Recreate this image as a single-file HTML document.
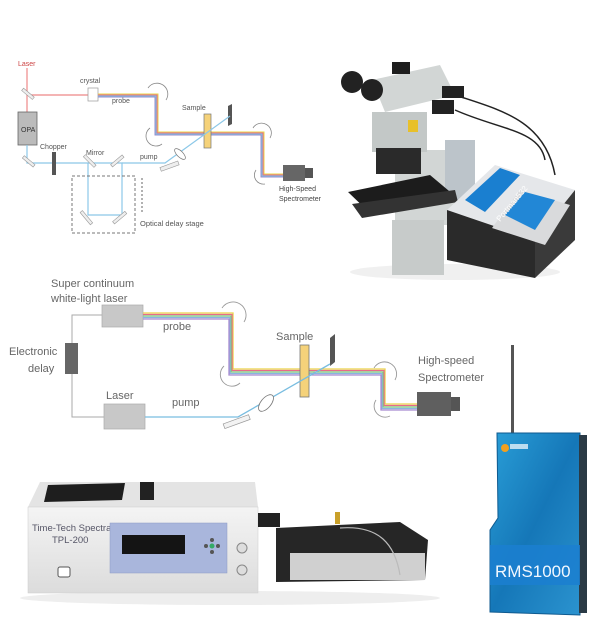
<!DOCTYPE html>
<html><head><style>
html,body{margin:0;padding:0;background:#fff;}
svg{display:block}
text{font-family:"Liberation Sans",sans-serif;}
</style></head><body>
<svg width="607" height="630" viewBox="0 0 607 630" xmlns="http://www.w3.org/2000/svg">
<defs>
<linearGradient id="blu" x1="0" y1="0" x2="1" y2="1"><stop offset="0" stop-color="#2a9fd8"/><stop offset="0.5" stop-color="#1577b8"/><stop offset="1" stop-color="#2b93cf"/></linearGradient>
<linearGradient id="wbox" x1="0" y1="0" x2="0" y2="1"><stop offset="0" stop-color="#f4f4f4"/><stop offset="1" stop-color="#dcdcdc"/></linearGradient>
</defs>
<!-- ===== Top diagram ===== -->
<g font-size="7" fill="#555">
<text x="18" y="66" fill="#c44">Laser</text>
<line x1="27" y1="68" x2="27" y2="95" stroke="#e88" stroke-width="1.2"/>
<line x1="27" y1="95" x2="88" y2="95" stroke="#e88" stroke-width="1.2"/>
<line x1="27" y1="95" x2="27" y2="112" stroke="#e88" stroke-width="1.2"/>
<rect x="20" y="92" width="14" height="3" transform="rotate(40 27 95)" fill="#eee" stroke="#999" stroke-width="0.6"/>
<text x="80" y="83">crystal</text>
<rect x="88" y="88" width="10" height="13" fill="#fff" stroke="#999" stroke-width="0.7"/>
<text x="112" y="103">probe</text>
<g fill="none" stroke-width="1">
<polyline points="98,94 158,94 158,132 264,132 264,174 285,174" stroke="#e9d44a"/>
<polyline points="98,95 157,95 157,133 263,133 263,175 285,175" stroke="#e86a8a"/>
<polyline points="98,96 156,96 156,134 262,134 262,176 285,176" stroke="#7ac7e6"/>
<polyline points="98,97 155,97 155,135 261,135 261,177 285,177" stroke="#9a8acb"/>
</g>
<path d="M148,88 A9,9 0 0 1 166,100" fill="none" stroke="#888" stroke-width="0.8"/>
<path d="M150,128 A9,9 0 0 0 162,144" fill="none" stroke="#888" stroke-width="0.8"/>
<path d="M253,128 A9,9 0 0 1 270,138" fill="none" stroke="#888" stroke-width="0.8"/>
<path d="M256,170 A9,9 0 0 0 265,184" fill="none" stroke="#888" stroke-width="0.8"/>
<text x="182" y="110">Sample</text>
<rect x="204" y="114" width="7" height="34" fill="#f5d27a" stroke="#777" stroke-width="0.7"/>
<polygon points="228,106 232,104 232,124 228,126" fill="#555"/>
<rect x="283" y="165" width="22" height="16" fill="#666"/><rect x="305" y="168" width="8" height="10" fill="#555"/>
<text x="279" y="191" fill="#444">High-Speed</text>
<text x="279" y="201" fill="#444">Spectrometer</text>
<rect x="18" y="112" width="19" height="33" fill="#bbb" stroke="#666" stroke-width="0.8"/>
<text x="21" y="132" fill="#333">OPA</text>
<g stroke="#8cc8e8" stroke-width="1.2" fill="none">
<polyline points="27,145 27,163 122,163 122,215 88,215 88,163"/>
<polyline points="122,163 165,163 230,116"/>
</g>
<rect x="22" y="160" width="14" height="3" transform="rotate(40 29 161)" fill="#eee" stroke="#999" stroke-width="0.6"/>
<text x="40" y="149">Chopper</text>
<rect x="52" y="152" width="4" height="23" fill="#555"/>
<text x="86" y="155">Mirror</text>
<rect x="82" y="159" width="15" height="3" transform="rotate(45 89 161)" fill="#eee" stroke="#999" stroke-width="0.6"/>
<rect x="110" y="159" width="15" height="3" transform="rotate(-40 118 161)" fill="#eee" stroke="#999" stroke-width="0.6"/>
<text x="140" y="159">pump</text>
<rect x="160" y="164" width="19" height="4" transform="rotate(-20 170 166)" fill="#eee" stroke="#999" stroke-width="0.6"/>
<ellipse cx="180" cy="154" rx="3" ry="7" transform="rotate(-45 180 154)" fill="#fff" stroke="#777" stroke-width="0.7"/>
<rect x="72" y="176" width="63" height="57" fill="none" stroke="#777" stroke-dasharray="3,2" stroke-width="1"/>
<rect x="78" y="216" width="16" height="3" transform="rotate(50 86 218)" fill="#eee" stroke="#999" stroke-width="0.6"/>
<rect x="112" y="216" width="16" height="3" transform="rotate(-40 120 218)" fill="#eee" stroke="#999" stroke-width="0.6"/>
<line x1="142" y1="178" x2="142" y2="213" stroke="#666" stroke-dasharray="2,2"/>
<text x="140" y="226" font-size="7.5">Optical delay stage</text>
</g>
<!-- ===== Microscope photo ===== -->
<g>
<ellipse cx="455" cy="272" rx="105" ry="8" fill="#f0f0f0"/>
<rect x="395" y="150" width="65" height="75" fill="#d2d6d5"/>
<rect x="445" y="140" width="30" height="60" fill="#bcc4ca"/>
<rect x="392" y="220" width="52" height="55" fill="#c7cbca"/>
<polygon points="348,192 430,175 455,196 372,215" fill="#1c1c1c"/>
<polygon points="352,204 455,190 458,202 362,218" fill="#333"/>
<rect x="372" y="112" width="55" height="40" fill="#c3c8c7"/>
<rect x="376" y="148" width="45" height="26" fill="#2a2a2a"/>
<polygon points="372,80 440,65 455,95 385,112" fill="#d2d6d5"/>
<circle cx="352" cy="82" r="11" fill="#222"/><circle cx="372" cy="90" r="11" fill="#222"/>
<rect x="392" y="62" width="18" height="12" fill="#1e1e1e"/>
<rect x="408" y="120" width="10" height="12" fill="#e8c02a"/>
<rect x="432" y="100" width="22" height="14" fill="#222"/><rect x="442" y="86" width="22" height="12" fill="#222"/>
<path d="M455,95 C500,110 545,120 555,175" fill="none" stroke="#222" stroke-width="1.5"/>
<path d="M455,110 C500,130 540,130 545,160" fill="none" stroke="#222" stroke-width="1.5"/>
<polygon points="447,210 495,165 575,190 535,240" fill="#e5e7ea"/>
<polygon points="465,200 500,168 520,175 485,212" fill="#1a7fd0"/>
<polygon points="447,210 535,240 535,278 447,260" fill="#2a2a2a"/>
<polygon points="535,240 575,190 575,240 535,278" fill="#3a3a3a"/>
<polygon points="492,228 520,190 570,205 545,245" fill="#d9dadc"/>
<polygon points="505,215 525,192 555,200 535,230" fill="#2287d6"/>
<text x="500" y="222" font-size="8" fill="#fff" transform="rotate(-50 500 222)">Portman532</text>
</g>
<!-- ===== Middle diagram ===== -->
<g font-size="11" fill="#666">
<text x="51" y="287">Super continuum</text>
<text x="51" y="302">white-light laser</text>
<rect x="102" y="305" width="41" height="22" fill="#c8c8c8" stroke="#aaa" stroke-width="0.7"/>
<text x="163" y="330">probe</text>
<g fill="none" stroke-width="1.3">
<polyline points="143,313 233,313 233,369 385,369 385,404 417,404" stroke="#e9d44a"/>
<polyline points="143,314.5 232,314.5 232,370.5 384,370.5 384,405.5 417,405.5" stroke="#e86a8a"/>
<polyline points="143,316 231,316 231,372 383,372 383,407 417,407" stroke="#7cc97a"/>
<polyline points="143,317.5 230,317.5 230,373.5 382,373.5 382,408.5 417,408.5" stroke="#8ab4e0"/>
<polyline points="143,319 229,319 229,375 381,375 381,410 417,410" stroke="#a78ad0"/>
</g>
<path d="M222,308 A11,11 0 0 1 244,322" fill="none" stroke="#999" stroke-width="0.9"/>
<path d="M224,366 A11,11 0 0 0 240,383" fill="none" stroke="#999" stroke-width="0.9"/>
<path d="M374,368 A11,11 0 0 1 395,380" fill="none" stroke="#999" stroke-width="0.9"/>
<path d="M376,400 A11,11 0 0 0 390,416" fill="none" stroke="#999" stroke-width="0.9"/>
<text x="276" y="340">Sample</text>
<rect x="300" y="345" width="9" height="52" fill="#f5d27a" stroke="#777" stroke-width="0.8"/>
<polygon points="330,338 335,334 335,362 330,366" fill="#555"/>
<rect x="417" y="392" width="34" height="24" fill="#5f5f5f"/><rect x="451" y="397" width="9" height="14" fill="#555"/>
<text x="418" y="364">High-speed</text>
<text x="418" y="381">Spectrometer</text>
<polyline points="102,315 72,315 72,417 104,417" fill="none" stroke="#aaa" stroke-width="1"/>
<rect x="65" y="343" width="13" height="31" fill="#666"/>
<text x="9" y="355">Electronic</text>
<text x="28" y="372">delay</text>
<text x="106" y="399">Laser</text>
<rect x="104" y="404" width="41" height="25" fill="#c8c8c8" stroke="#aaa" stroke-width="0.7"/>
<text x="172" y="406">pump</text>
<polyline points="145,417 238,417 330,364" fill="none" stroke="#79bde0" stroke-width="1.3"/>
<rect x="223" y="419" width="27" height="5" transform="rotate(-20 237 421)" fill="#f3f3f3" stroke="#999" stroke-width="0.7"/>
<ellipse cx="266" cy="403" rx="5" ry="10" transform="rotate(40 266 403)" fill="#fff" stroke="#777" stroke-width="0.8"/>
</g>
<!-- ===== TPL-200 photo ===== -->
<g>
<ellipse cx="230" cy="598" rx="210" ry="7" fill="#eee"/>
<polygon points="40,482 255,482 258,507 28,507" fill="#e4e4e4"/>
<polygon points="48,485 125,483 122,500 44,502" fill="#1e1e1e"/>
<rect x="140" y="482" width="14" height="18" fill="#222"/>
<rect x="28" y="507" width="230" height="86" fill="url(#wbox)" stroke="#ccc" stroke-width="0.5"/>
<text x="32" y="531" font-family="Liberation Serif,serif" font-size="9.5" fill="#556">Time-Tech Spectra</text>
<text x="52" y="543" font-family="Liberation Serif,serif" font-size="9.5" fill="#556">TPL-200</text>
<rect x="110" y="523" width="117" height="50" fill="#a9b6dc" stroke="#8c9ac4" stroke-width="0.5"/>
<rect x="122" y="535" width="63" height="19" fill="#141414"/>
<circle cx="212" cy="546" r="2.5" fill="#3a6"/><circle cx="206" cy="546" r="2" fill="#555"/><circle cx="218" cy="546" r="2" fill="#555"/><circle cx="212" cy="540" r="2" fill="#555"/><circle cx="212" cy="552" r="2" fill="#555"/>
<circle cx="242" cy="548" r="5" fill="#ddd" stroke="#888"/><circle cx="242" cy="570" r="5" fill="#ddd" stroke="#888"/>
<rect x="58" y="567" width="12" height="10" rx="2" fill="#fff" stroke="#555"/>
<rect x="258" y="513" width="22" height="14" fill="#222"/>
<polygon points="276,528 400,522 428,540 425,580 276,582" fill="#262626"/>
<rect x="290" y="553" width="135" height="27" fill="#d0d0d0"/>
<rect x="335" y="512" width="5" height="12" fill="#c9a02a"/>
<path d="M340,528 C380,525 395,545 400,575" fill="none" stroke="#bbb" stroke-width="1.2"/>
</g>
<!-- ===== RMS1000 ===== -->
<g>
<rect x="511" y="345" width="3" height="90" fill="#555"/>
<polygon points="497,433 580,433 580,615 490,612 490,530 498,518" fill="url(#blu)" stroke="#0f5a8f" stroke-width="1"/>
<rect x="579" y="435" width="8" height="178" fill="#2a3a45"/>
<rect x="490" y="545" width="90" height="40" fill="#1b7fd0" opacity="0.85"/>
<text x="495" y="577" font-size="17" fill="#f2f8ff">RMS1000</text>
<circle cx="505" cy="448" r="4" fill="#f0a020"/>
<rect x="510" y="444" width="18" height="5" fill="#fff" opacity="0.7"/>
</g>
</svg>
</body></html>
